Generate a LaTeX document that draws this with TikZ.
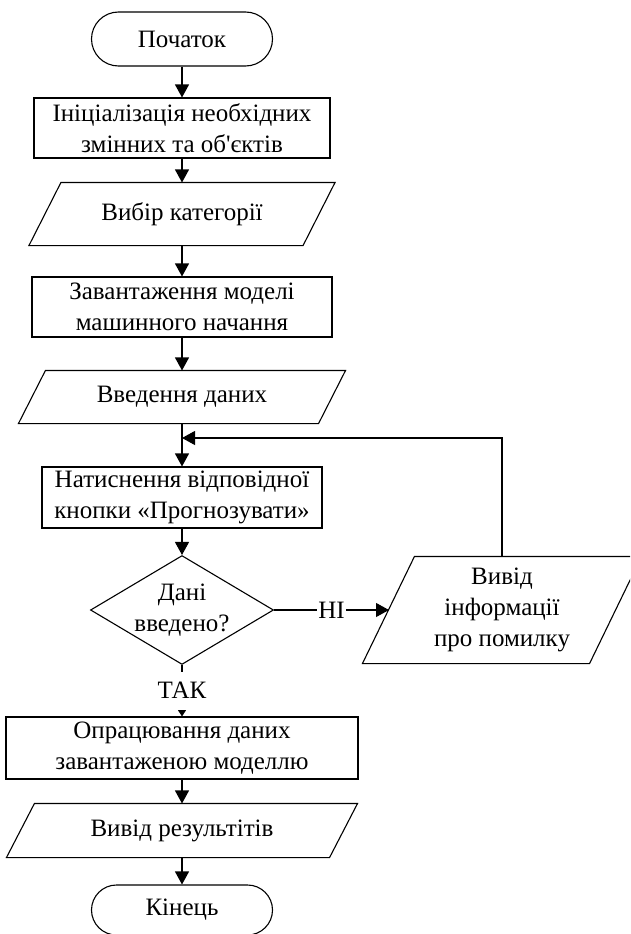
\documentclass[tikz,border=0pt]{standalone}
\usepackage{fontspec}
\setmainfont{Liberation Serif}
\usetikzlibrary{arrows.meta,shapes.geometric}
\newcommand\parabox[2]{\draw ([xshift=#2]#1.north west) -- (#1.north east) -- ([xshift=-#2]#1.south east) -- (#1.south west) -- cycle;}
\begin{document}
\begin{tikzpicture}[x=1pt,y=-1pt,
  font=\fontsize{25}{31}\selectfont,
  line width=1.1pt,
  every node/.style={align=center, inner sep=0pt},
  proc/.style={draw, rectangle},
  term/.style={draw, rectangle},
  io/.style={draw=none, rectangle},
  dec/.style={draw, diamond, aspect=1.68},
  arr/.style={-{Triangle[length=13pt,width=14pt]}},
  smallarr/.style={-{Triangle[length=8pt,width=10pt]}},
  lbl/.style={fill=white, inner xsep=1.5pt}
]
\useasboundingbox (0,0) rectangle (630,934);
\clip (0,0) rectangle (630,934);

\node[term, rounded corners=27pt, minimum width=181pt, minimum height=54pt] (start) at (182,39) {Початок};
\node[proc, minimum width=296pt, minimum height=60pt] (b1) at (182,128) {Ініціалізація необхідних\\змінних та об\textquotesingle єктів};
\node[io, minimum width=305pt, minimum height=62pt] (p2) at (182,214) {Вибір категорії};
\parabox{p2}{32pt}
\node[proc, minimum width=300pt, minimum height=60pt] (b3) at (182,307) {Завантаження моделі\\машинного начання};
\node[io, minimum width=326pt, minimum height=52pt] (p4) at (182,397) {Введення даних};
\parabox{p4}{27pt}
\node[proc, minimum width=280pt, minimum height=61pt] (b5) at (182,497.5) {Натиснення відповідної\\кнопки «Прогнозувати»};
\node[dec, minimum width=178pt, minimum height=106pt] (dia) at (182,610) {Дані\\введено?};
\node[io, minimum width=278pt, minimum height=106pt] (err) at (502,610) {Вивід\\інформації\\про помилку};
\parabox{err}{52pt}
\coordinate (errin) at (389,610);
\coordinate (join) at (182,438);
\node[proc, minimum width=352pt, minimum height=62pt] (b6) at (182,748) {Опрацювання даних\\завантаженою моделлю};
\node[io, minimum width=350pt, minimum height=53pt] (p7) at (182,830.5) {Вивід результітів};
\parabox{p7}{28pt}
\node[term, rounded corners=25pt, minimum width=181pt, minimum height=50pt] (end) at (182,910) {Кінець};

\draw[arr] (start) -- (b1);
\draw[arr] (b1) -- (p2);
\draw[arr] (p2) -- (b3);
\draw[arr] (b3) -- (p4);
\draw[arr] (p4) -- (b5);
\draw[arr] (err.north) |- (join);
\draw[arr] (b5) -- (dia);
\draw[arr] (dia.east) -- node[lbl] {НІ} (errin);
\draw[smallarr] (dia.south) -- node[lbl, minimum height=38pt] {ТАК} (b6.north);
\draw[arr] (b6) -- (p7);
\draw[arr] (p7) -- (end);
\end{tikzpicture}
\end{document}
